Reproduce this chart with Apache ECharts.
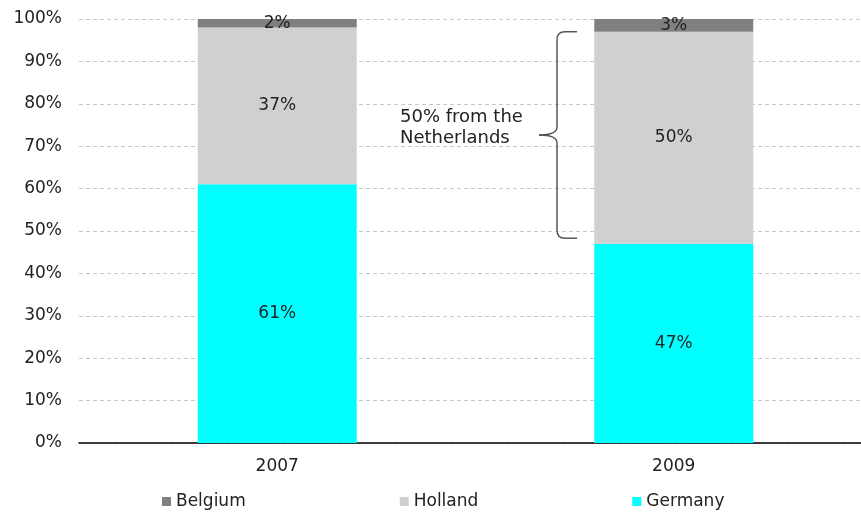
<!DOCTYPE html>
<html>
<head>
<meta charset="utf-8">
<script src="https://cdn.jsdelivr.net/npm/echarts@6/dist/echarts.min.js"></script>
<style>
html,body{margin:0;padding:0;background:#fff;}
#main{width:861px;height:513px;}
</style>
</head>
<body>
<div id="main"></div>
<script>
var categories = ['2007', '2009'];
var germany = [61, 47];
var holland = [37, 50];
var belgium = [2, 3];
var yTicks = [0, 10, 20, 30, 40, 50, 60, 70, 80, 90, 100];
var annotationText = '50% from the\nNetherlands';
var braceRange = [48.3, 97];

var FONT = 'DejaVu Sans';
var chart = echarts.init(document.getElementById('main'));

function seg(name, data, color) {
  return {
    name: name,
    type: 'bar',
    stack: 'total',
    data: data,
    barWidth: 159,
    itemStyle: { color: color },
    label: {
      show: true,
      position: 'inside',
      formatter: '{c}%',
      color: '#222',
      fontFamily: FONT,
      fontSize: 17
    },
    emphasis: { disabled: true }
  };
}

chart.setOption({
  animation: false,
  grid: { left: 79, width: 793, top: 19, bottom: 70, containLabel: false, outerBoundsMode: 'none' },
  legend: {
    data: ['Belgium', 'Holland', 'Germany'],
    left: 157,
    top: 488,
    itemGap: 154,
    itemWidth: 9,
    itemHeight: 9,
    icon: 'rect',
    textStyle: { fontFamily: FONT, fontSize: 17, color: '#222', padding: [0, 0, 0, 0] }
  },
  xAxis: {
    type: 'category',
    data: categories,
    axisLine: { show: true, lineStyle: { color: '#000', width: 1.5 } },
    axisTick: { show: false },
    axisLabel: { fontFamily: FONT, fontSize: 17, color: '#222', margin: 15 }
  },
  yAxis: {
    type: 'value',
    min: yTicks[0],
    max: yTicks[yTicks.length - 1],
    interval: yTicks[1] - yTicks[0],
    axisLine: { show: false },
    axisTick: { show: false },
    axisLabel: { fontFamily: FONT, fontSize: 17, color: '#222', margin: 17, formatter: '{value}%' },
    splitLine: { lineStyle: { color: '#c8c8c8', type: [4, 3], width: 1 } }
  },
  series: [
    seg('Germany', germany, '#00ffff'),
    seg('Holland', holland, '#d0d0d0'),
    seg('Belgium', belgium, '#808080')
  ]
});

var yTop = chart.convertToPixel({ yAxisIndex: 0 }, braceRange[1]);
var yBot = chart.convertToPixel({ yAxisIndex: 0 }, braceRange[0]);
var yMid = (yTop + yBot) / 2;
var xv = 557, xr = 577, xt = 539, r = 8;
var bs = { stroke: '#555', lineWidth: 1.5, fill: null };

function ln(x1, y1, x2, y2) {
  return { type: 'line', shape: { x1: x1, y1: y1, x2: x2, y2: y2 }, style: bs, silent: true };
}
function bz(x1, y1, cx, cy, x2, y2) {
  return { type: 'bezierCurve', shape: { x1: x1, y1: y1, cpx1: cx, cpy1: cy, x2: x2, y2: y2 }, style: bs, silent: true };
}

chart.setOption({
  graphic: [
    ln(xr, yTop, xv + r, yTop),
    bz(xv + r, yTop, xv, yTop, xv, yTop + r),
    ln(xv, yTop + r, xv, yMid - r),
    bz(xv, yMid - r, xv, yMid, xt, yMid),
    bz(xt, yMid, xv, yMid, xv, yMid + r),
    ln(xv, yMid + r, xv, yBot - r),
    bz(xv, yBot - r, xv, yBot, xv + r, yBot),
    ln(xv + r, yBot, xr, yBot),
    {
      type: 'text',
      left: 400,
      top: yMid - 28,
      silent: true,
      style: {
        text: annotationText,
        fontFamily: FONT,
        fontSize: 18,
        lineHeight: 21,
        fill: '#222'
      }
    }
  ]
});
</script>
</body>
</html>
